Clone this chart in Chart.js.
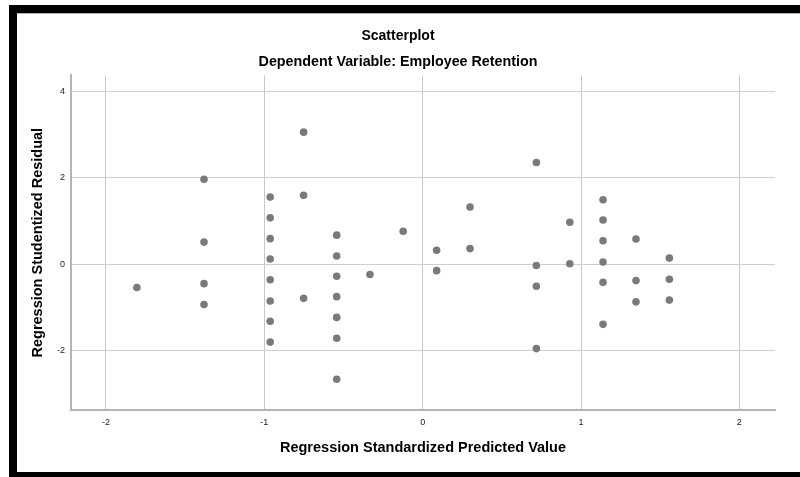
<!DOCTYPE html>
<html>
<head>
<meta charset="utf-8">
<style>
  html, body { margin: 0; padding: 0; background: #ffffff; }
  #wrap { position: relative; width: 800px; height: 477px; }
</style>
<script src="https://cdn.jsdelivr.net/npm/chart.js@4/dist/chart.umd.min.js"></script>
</head>
<body>
<div id="wrap"><canvas id="chart" width="800" height="477"></canvas></div>
<script>
// Regression Standardized Predicted Value (x) for each case
const predicted = [
  -1.805,
  -1.381, -1.381, -1.381, -1.381,
  -0.963, -0.963, -0.963, -0.963, -0.963, -0.963, -0.963, -0.963,
  -0.752, -0.752, -0.752,
  -0.543, -0.543, -0.543, -0.543, -0.543, -0.543, -0.543,
  -0.333,
  -0.123,
  0.088, 0.088,
  0.299, 0.299,
  0.718, 0.718, 0.718, 0.718,
  0.929, 0.929,
  1.139, 1.139, 1.139, 1.139, 1.139, 1.139,
  1.347, 1.347, 1.347,
  1.558, 1.558, 1.558
];

// Regression Studentized Residual (y) for each case
const residual = [
  -0.54,
  1.96, 0.51, -0.45, -0.93,
  1.55, 1.07, 0.59, 0.12, -0.36, -0.85, -1.32, -1.80,
  3.05, 1.59, -0.79,
  0.67, 0.19, -0.28, -0.75, -1.23, -1.71, -2.66,
  -0.24,
  0.76,
  0.32, -0.15,
  1.32, 0.36,
  2.35, -0.03, -0.51, -1.95,
  0.97, 0.01,
  1.49, 1.02, 0.54, 0.05, -0.42, -1.39,
  0.58, -0.38, -0.87,
  0.14, -0.35, -0.83
];

const xTicks = [-2, -1, 0, 1, 2];
const yTicks = [-2, 0, 2, 4];

const chartTitle = 'Scatterplot';
const chartSubtitle = 'Dependent Variable: Employee Retention';
const xTitle = 'Regression Standardized Predicted Value';
const yTitle = 'Regression Studentized Residual';

const points = predicted.map((x, i) => ({ x: x, y: residual[i] }));

const FONT = '"Liberation Sans", Arial, sans-serif';

// White page with the black frame along the top, left and bottom edges
const framePlugin = {
  id: 'frame',
  beforeDraw(chart) {
    const ctx = chart.ctx;
    ctx.save();
    ctx.fillStyle = '#ffffff';
    ctx.fillRect(0, 0, chart.width, chart.height);
    ctx.fillStyle = '#000000';
    ctx.fillRect(9, 5, chart.width - 9, 8.3);
    ctx.fillRect(9, 5, 8, chart.height - 5);
    ctx.fillRect(9, 472, chart.width - 9, chart.height - 472);
    ctx.restore();
  }
};

new Chart(document.getElementById('chart'), {
  type: 'scatter',
  data: {
    datasets: [{
      data: points,
      pointRadius: 3.8,
      pointHoverRadius: 3.8,
      pointBackgroundColor: '#7a7a7a',
      pointBorderWidth: 0,
      showLine: false
    }]
  },
  options: {
    responsive: false,
    animation: false,
    devicePixelRatio: 1,
    layout: { padding: { top: 0, left: 21, right: 25, bottom: 0 } },
    plugins: {
      legend: { display: false },
      tooltip: { enabled: false },
      title: {
        display: true,
        text: chartTitle,
        color: '#000000',
        font: { family: FONT, size: 14, weight: 'bold', lineHeight: 1.2 },
        padding: { top: 27.6, bottom: 0 }
      },
      subtitle: {
        display: true,
        text: chartSubtitle,
        color: '#000000',
        font: { family: FONT, size: 14.3, weight: 'bold', lineHeight: 1.2 },
        padding: { top: 9.5, bottom: 4.3 }
      }
    },
    scales: {
      x: {
        type: 'linear',
        position: 'bottom',
        min: -2.221,
        max: 2.225,
        afterFit(scale) { scale.height = 67; },
        afterBuildTicks(scale) { scale.ticks = xTicks.map(v => ({ value: v })); },
        ticks: {
          includeBounds: false,
          padding: 7,
          color: '#222222',
          font: { family: FONT, size: 9 },
          callback: v => String(v)
        },
        grid: { color: '#c8c8c8', lineWidth: 1, drawTicks: false },
        border: { display: true, color: '#b4b4b4', width: 2 },
        title: {
          display: true,
          text: xTitle,
          color: '#000000',
          font: { family: FONT, size: 14.5, weight: 'bold', lineHeight: 1.2 },
          padding: { top: 0, bottom: 20.6 }
        }
      },
      y: {
        type: 'linear',
        position: 'left',
        min: -3.369,
        max: 4.362,
        afterFit(scale) { scale.width = 50; },
        afterBuildTicks(scale) { scale.ticks = yTicks.map(v => ({ value: v })); },
        ticks: {
          includeBounds: false,
          padding: 6,
          color: '#222222',
          font: { family: FONT, size: 9 },
          callback: v => String(v)
        },
        grid: { color: '#cfcfcf', lineWidth: 1, drawTicks: false },
        border: { display: true, color: '#b4b4b4', width: 2 },
        title: {
          display: true,
          text: yTitle,
          color: '#000000',
          font: { family: FONT, size: 14.5, weight: 'bold', lineHeight: 1.2 },
          padding: { top: 8, bottom: 0 }
        }
      }
    }
  },
  plugins: [framePlugin]
});
</script>
</body>
</html>
